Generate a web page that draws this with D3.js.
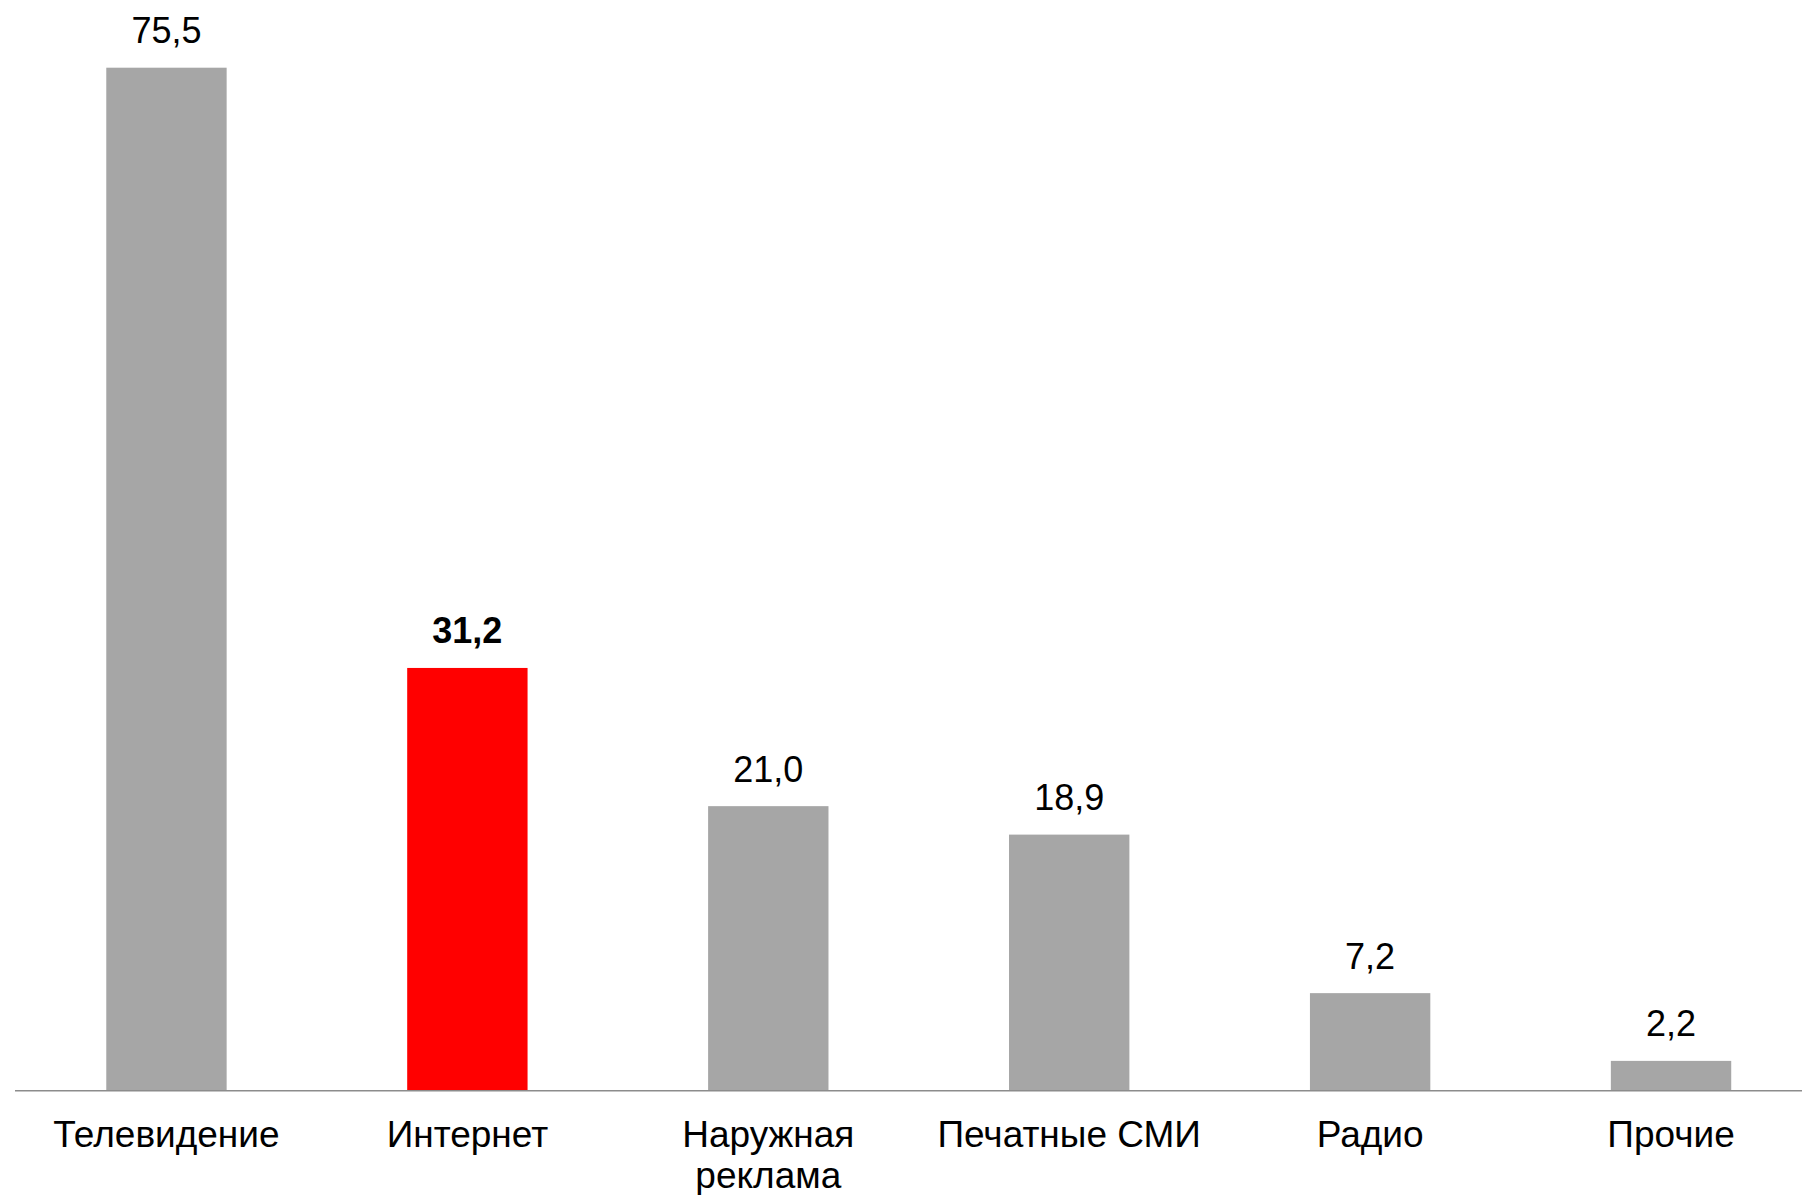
<!DOCTYPE html>
<html>
<head>
<meta charset="utf-8">
<script src="https://cdn.jsdelivr.net/npm/d3@7"></script>
<style>
  html, body { margin: 0; padding: 0; background: #ffffff; }
  svg { display: block; }
</style>
</head>
<body>
<svg id="chart" width="1802" height="1195"></svg>
<script>
const categories = ["Телевидение", "Интернет", "Наружная реклама", "Печатные СМИ", "Радио", "Прочие"];
const categoryLines = [["Телевидение"], ["Интернет"], ["Наружная", "реклама"], ["Печатные СМИ"], ["Радио"], ["Прочие"]];
const values = [75.5, 31.2, 21.0, 18.9, 7.2, 2.2];
const valueLabels = ["75,5", "31,2", "21,0", "18,9", "7,2", "2,2"];
const highlighted = [false, true, false, false, false, false];

const svg = d3.select("#chart");
const baseY = 1090.7;
const font = "'Liberation Sans', Arial, sans-serif";

const x = d3.scaleBand()
  .domain(categories)
  .range([16, 1821.5])
  .paddingInner(0.6)
  .paddingOuter(0.3);

const y = d3.scaleLinear()
  .domain([0, 75.5])
  .range([baseY, 67.7]);

const data = categories.map((c, i) => ({ c, v: values[i], label: valueLabels[i], hi: highlighted[i], lines: categoryLines[i] }));

svg.selectAll("rect.bar")
  .data(data)
  .enter().append("rect")
  .attr("class", "bar")
  .attr("x", d => x(d.c))
  .attr("width", x.bandwidth())
  .attr("y", d => y(d.v))
  .attr("height", d => baseY - y(d.v))
  .attr("fill", d => d.hi ? "#ff0000" : "#a6a6a6");

svg.append("line")
  .attr("x1", 15).attr("x2", 1802)
  .attr("y1", baseY).attr("y2", baseY)
  .attr("stroke", "#8c8c8c")
  .attr("stroke-width", 1.5);

svg.selectAll("text.val")
  .data(data)
  .enter().append("text")
  .attr("class", "val")
  .attr("x", d => x(d.c) + x.bandwidth() / 2)
  .attr("y", d => y(d.v) - 24.5)
  .attr("text-anchor", "middle")
  .attr("font-family", font)
  .attr("font-size", 36)
  .attr("font-weight", d => d.hi ? "bold" : "normal")
  .attr("fill", "#000")
  .text(d => d.label);

const cat = svg.selectAll("text.cat")
  .data(data)
  .enter().append("text")
  .attr("class", "cat")
  .attr("x", d => x(d.c) + x.bandwidth() / 2)
  .attr("y", 1147)
  .attr("text-anchor", "middle")
  .attr("font-family", font)
  .attr("font-size", 37)
  .attr("fill", "#000");

cat.selectAll("tspan")
  .data(d => d.lines.map(l => ({ l, cx: x(d.c) + x.bandwidth() / 2 })))
  .enter().append("tspan")
  .attr("x", t => t.cx)
  .attr("dy", (t, i) => i === 0 ? 0 : 41)
  .text(t => t.l);
</script>
</body>
</html>
